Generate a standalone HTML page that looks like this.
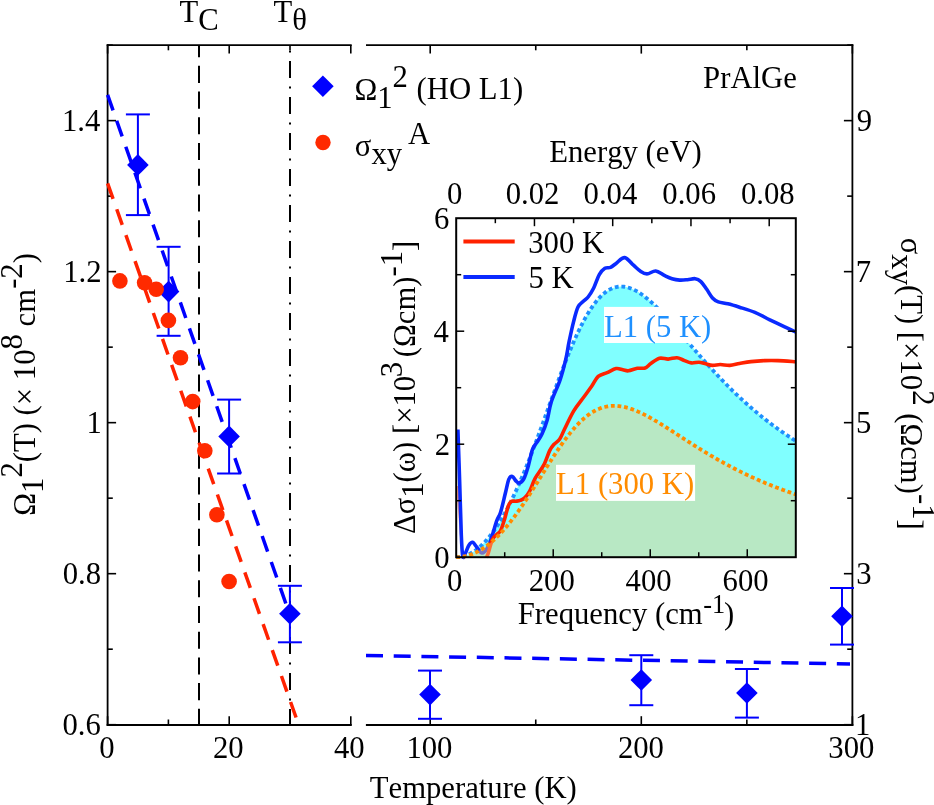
<!DOCTYPE html>
<html><head><meta charset="utf-8"><style>
html,body{margin:0;padding:0;background:#fff;width:934px;height:805px;overflow:hidden}
svg{display:block;will-change:transform}
</style></head><body>
<svg width="934" height="805" viewBox="0 0 934 805" font-family="Liberation Serif, serif" style="font-kerning:none;white-space:pre">
<rect width="934" height="805" fill="#fff"/>
<polygon points="456.20,557.2 456.20,557.20 457.17,557.18 458.14,557.13 459.11,557.04 460.08,556.92 461.05,556.76 462.02,556.57 462.99,556.35 463.96,556.08 464.93,555.79 465.90,555.46 466.87,555.09 467.84,554.69 468.81,554.25 469.78,553.78 470.75,553.27 471.72,552.73 472.69,552.15 473.66,551.54 474.63,550.89 475.60,550.21 476.57,549.49 477.54,548.74 478.51,547.95 479.48,547.13 480.45,546.27 481.43,545.38 482.40,544.45 483.37,543.49 484.34,542.49 485.31,541.45 486.28,540.38 487.25,539.28 488.22,538.14 489.19,536.96 490.16,535.75 491.13,534.50 492.10,533.22 493.07,531.90 494.04,530.55 495.01,529.17 495.98,527.75 496.95,526.29 497.92,524.80 498.89,523.27 499.86,521.71 500.83,520.12 501.80,518.49 502.77,516.83 503.74,515.13 504.71,513.40 505.68,511.64 506.65,509.85 507.62,508.02 508.59,506.15 509.56,504.26 510.53,502.33 511.50,500.37 512.47,498.38 513.44,496.36 514.41,494.31 515.38,492.23 516.35,490.12 517.32,487.98 518.29,485.80 519.26,483.61 520.23,481.38 521.20,479.12 522.17,476.84 523.14,474.53 524.11,472.20 525.08,469.84 526.05,467.46 527.02,465.05 527.99,462.62 528.97,460.17 529.94,457.70 530.91,455.21 531.88,452.70 532.85,450.16 533.82,447.61 534.79,445.05 535.76,442.47 536.73,439.87 537.70,437.26 538.67,434.64 539.64,432.00 540.61,429.35 541.58,426.70 542.55,424.03 543.52,421.36 544.49,418.69 545.46,416.00 546.43,413.32 547.40,410.63 548.37,407.94 549.34,405.25 550.31,402.56 551.28,399.88 552.25,397.20 553.22,394.53 554.19,391.86 555.16,389.20 556.13,386.55 557.10,383.91 558.07,381.28 559.04,378.67 560.01,376.08 560.98,373.50 561.95,370.93 562.92,368.39 563.89,365.87 564.86,363.37 565.83,360.89 566.80,358.44 567.77,356.01 568.74,353.61 569.71,351.24 570.68,348.90 571.65,346.59 572.62,344.31 573.59,342.07 574.56,339.86 575.53,337.69 576.50,335.55 577.48,333.45 578.45,331.39 579.42,329.37 580.39,327.39 581.36,325.45 582.33,323.55 583.30,321.70 584.27,319.89 585.24,318.13 586.21,316.41 587.18,314.73 588.15,313.11 589.12,311.53 590.09,309.99 591.06,308.51 592.03,307.07 593.00,305.68 593.97,304.35 594.94,303.06 595.91,301.82 596.88,300.63 597.85,299.48 598.82,298.39 599.79,297.35 600.76,296.36 601.73,295.42 602.70,294.53 603.67,293.68 604.64,292.89 605.61,292.15 606.58,291.45 607.55,290.80 608.52,290.20 609.49,289.65 610.46,289.15 611.43,288.69 612.40,288.28 613.37,287.91 614.34,287.59 615.31,287.31 616.28,287.08 617.25,286.89 618.22,286.75 619.19,286.65 620.16,286.59 621.13,286.57 622.10,286.58 623.07,286.64 624.04,286.74 625.01,286.88 625.99,287.05 626.96,287.26 627.93,287.51 628.90,287.79 629.87,288.10 630.84,288.45 631.81,288.83 632.78,289.25 633.75,289.69 634.72,290.16 635.69,290.67 636.66,291.20 637.63,291.76 638.60,292.35 639.57,292.96 640.54,293.60 641.51,294.26 642.48,294.95 643.45,295.66 644.42,296.39 645.39,297.15 646.36,297.92 647.33,298.72 648.30,299.53 649.27,300.36 650.24,301.21 651.21,302.08 652.18,302.97 653.15,303.87 654.12,304.79 655.09,305.72 656.06,306.66 657.03,307.62 658.00,308.59 658.97,309.58 659.94,310.57 660.91,311.58 661.88,312.59 662.85,313.62 663.82,314.66 664.79,315.70 665.76,316.75 666.73,317.81 667.70,318.88 668.67,319.96 669.64,321.04 670.61,322.12 671.58,323.22 672.55,324.31 673.52,325.42 674.50,326.52 675.47,327.63 676.44,328.74 677.41,329.86 678.38,330.98 679.35,332.10 680.32,333.23 681.29,334.35 682.26,335.48 683.23,336.60 684.20,337.73 685.17,338.86 686.14,339.99 687.11,341.12 688.08,342.25 689.05,343.37 690.02,344.50 690.99,345.63 691.96,346.75 692.93,347.87 693.90,349.00 694.87,350.12 695.84,351.23 696.81,352.35 697.78,353.46 698.75,354.57 699.72,355.67 700.69,356.78 701.66,357.88 702.63,358.98 703.60,360.07 704.57,361.16 705.54,362.25 706.51,363.33 707.48,364.41 708.45,365.48 709.42,366.55 710.39,367.62 711.36,368.68 712.33,369.74 713.30,370.79 714.27,371.84 715.24,372.88 716.21,373.92 717.18,374.95 718.15,375.98 719.12,377.00 720.09,378.02 721.06,379.04 722.03,380.04 723.00,381.05 723.98,382.04 724.95,383.04 725.92,384.02 726.89,385.01 727.86,385.98 728.83,386.95 729.80,387.92 730.77,388.88 731.74,389.83 732.71,390.78 733.68,391.73 734.65,392.67 735.62,393.60 736.59,394.53 737.56,395.45 738.53,396.36 739.50,397.27 740.47,398.18 741.44,399.08 742.41,399.97 743.38,400.86 744.35,401.74 745.32,402.62 746.29,403.49 747.26,404.36 748.23,405.22 749.20,406.07 750.17,406.92 751.14,407.76 752.11,408.60 753.08,409.43 754.05,410.26 755.02,411.08 755.99,411.90 756.96,412.71 757.93,413.52 758.90,414.32 759.87,415.11 760.84,415.90 761.81,416.69 762.78,417.46 763.75,418.24 764.72,419.01 765.69,419.77 766.66,420.53 767.63,421.28 768.60,422.03 769.57,422.77 770.54,423.51 771.51,424.24 772.49,424.97 773.46,425.69 774.43,426.41 775.40,427.12 776.37,427.83 777.34,428.53 778.31,429.23 779.28,429.92 780.25,430.61 781.22,431.29 782.19,431.97 783.16,432.64 784.13,433.31 785.10,433.98 786.07,434.64 787.04,435.29 788.01,435.94 788.98,436.59 789.95,437.23 790.92,437.87 791.89,438.50 792.86,439.13 793.83,439.75 794.80,440.37 795.77,440.98 795.8,557.2" fill="#80ffff"/>
<polyline points="456.20,557.20 457.17,557.18 458.14,557.13 459.11,557.04 460.08,556.92 461.05,556.76 462.02,556.57 462.99,556.35 463.96,556.08 464.93,555.79 465.90,555.46 466.87,555.09 467.84,554.69 468.81,554.25 469.78,553.78 470.75,553.27 471.72,552.73 472.69,552.15 473.66,551.54 474.63,550.89 475.60,550.21 476.57,549.49 477.54,548.74 478.51,547.95 479.48,547.13 480.45,546.27 481.43,545.38 482.40,544.45 483.37,543.49 484.34,542.49 485.31,541.45 486.28,540.38 487.25,539.28 488.22,538.14 489.19,536.96 490.16,535.75 491.13,534.50 492.10,533.22 493.07,531.90 494.04,530.55 495.01,529.17 495.98,527.75 496.95,526.29 497.92,524.80 498.89,523.27 499.86,521.71 500.83,520.12 501.80,518.49 502.77,516.83 503.74,515.13 504.71,513.40 505.68,511.64 506.65,509.85 507.62,508.02 508.59,506.15 509.56,504.26 510.53,502.33 511.50,500.37 512.47,498.38 513.44,496.36 514.41,494.31 515.38,492.23 516.35,490.12 517.32,487.98 518.29,485.80 519.26,483.61 520.23,481.38 521.20,479.12 522.17,476.84 523.14,474.53 524.11,472.20 525.08,469.84 526.05,467.46 527.02,465.05 527.99,462.62 528.97,460.17 529.94,457.70 530.91,455.21 531.88,452.70 532.85,450.16 533.82,447.61 534.79,445.05 535.76,442.47 536.73,439.87 537.70,437.26 538.67,434.64 539.64,432.00 540.61,429.35 541.58,426.70 542.55,424.03 543.52,421.36 544.49,418.69 545.46,416.00 546.43,413.32 547.40,410.63 548.37,407.94 549.34,405.25 550.31,402.56 551.28,399.88 552.25,397.20 553.22,394.53 554.19,391.86 555.16,389.20 556.13,386.55 557.10,383.91 558.07,381.28 559.04,378.67 560.01,376.08 560.98,373.50 561.95,370.93 562.92,368.39 563.89,365.87 564.86,363.37 565.83,360.89 566.80,358.44 567.77,356.01 568.74,353.61 569.71,351.24 570.68,348.90 571.65,346.59 572.62,344.31 573.59,342.07 574.56,339.86 575.53,337.69 576.50,335.55 577.48,333.45 578.45,331.39 579.42,329.37 580.39,327.39 581.36,325.45 582.33,323.55 583.30,321.70 584.27,319.89 585.24,318.13 586.21,316.41 587.18,314.73 588.15,313.11 589.12,311.53 590.09,309.99 591.06,308.51 592.03,307.07 593.00,305.68 593.97,304.35 594.94,303.06 595.91,301.82 596.88,300.63 597.85,299.48 598.82,298.39 599.79,297.35 600.76,296.36 601.73,295.42 602.70,294.53 603.67,293.68 604.64,292.89 605.61,292.15 606.58,291.45 607.55,290.80 608.52,290.20 609.49,289.65 610.46,289.15 611.43,288.69 612.40,288.28 613.37,287.91 614.34,287.59 615.31,287.31 616.28,287.08 617.25,286.89 618.22,286.75 619.19,286.65 620.16,286.59 621.13,286.57 622.10,286.58 623.07,286.64 624.04,286.74 625.01,286.88 625.99,287.05 626.96,287.26 627.93,287.51 628.90,287.79 629.87,288.10 630.84,288.45 631.81,288.83 632.78,289.25 633.75,289.69 634.72,290.16 635.69,290.67 636.66,291.20 637.63,291.76 638.60,292.35 639.57,292.96 640.54,293.60 641.51,294.26 642.48,294.95 643.45,295.66 644.42,296.39 645.39,297.15 646.36,297.92 647.33,298.72 648.30,299.53 649.27,300.36 650.24,301.21 651.21,302.08 652.18,302.97 653.15,303.87 654.12,304.79 655.09,305.72 656.06,306.66 657.03,307.62 658.00,308.59 658.97,309.58 659.94,310.57 660.91,311.58 661.88,312.59 662.85,313.62 663.82,314.66 664.79,315.70 665.76,316.75 666.73,317.81 667.70,318.88 668.67,319.96 669.64,321.04 670.61,322.12 671.58,323.22 672.55,324.31 673.52,325.42 674.50,326.52 675.47,327.63 676.44,328.74 677.41,329.86 678.38,330.98 679.35,332.10 680.32,333.23 681.29,334.35 682.26,335.48 683.23,336.60 684.20,337.73 685.17,338.86 686.14,339.99 687.11,341.12 688.08,342.25 689.05,343.37 690.02,344.50 690.99,345.63 691.96,346.75 692.93,347.87 693.90,349.00 694.87,350.12 695.84,351.23 696.81,352.35 697.78,353.46 698.75,354.57 699.72,355.67 700.69,356.78 701.66,357.88 702.63,358.98 703.60,360.07 704.57,361.16 705.54,362.25 706.51,363.33 707.48,364.41 708.45,365.48 709.42,366.55 710.39,367.62 711.36,368.68 712.33,369.74 713.30,370.79 714.27,371.84 715.24,372.88 716.21,373.92 717.18,374.95 718.15,375.98 719.12,377.00 720.09,378.02 721.06,379.04 722.03,380.04 723.00,381.05 723.98,382.04 724.95,383.04 725.92,384.02 726.89,385.01 727.86,385.98 728.83,386.95 729.80,387.92 730.77,388.88 731.74,389.83 732.71,390.78 733.68,391.73 734.65,392.67 735.62,393.60 736.59,394.53 737.56,395.45 738.53,396.36 739.50,397.27 740.47,398.18 741.44,399.08 742.41,399.97 743.38,400.86 744.35,401.74 745.32,402.62 746.29,403.49 747.26,404.36 748.23,405.22 749.20,406.07 750.17,406.92 751.14,407.76 752.11,408.60 753.08,409.43 754.05,410.26 755.02,411.08 755.99,411.90 756.96,412.71 757.93,413.52 758.90,414.32 759.87,415.11 760.84,415.90 761.81,416.69 762.78,417.46 763.75,418.24 764.72,419.01 765.69,419.77 766.66,420.53 767.63,421.28 768.60,422.03 769.57,422.77 770.54,423.51 771.51,424.24 772.49,424.97 773.46,425.69 774.43,426.41 775.40,427.12 776.37,427.83 777.34,428.53 778.31,429.23 779.28,429.92 780.25,430.61 781.22,431.29 782.19,431.97 783.16,432.64 784.13,433.31 785.10,433.98 786.07,434.64 787.04,435.29 788.01,435.94 788.98,436.59 789.95,437.23 790.92,437.87 791.89,438.50 792.86,439.13 793.83,439.75 794.80,440.37 795.77,440.98" fill="none" stroke="#1e90ff" stroke-width="3.8" stroke-dasharray="3.8 2.8"/>
<line x1="457.2" y1="486" x2="462.5" y2="557" stroke="#ff6040" stroke-width="2" opacity="0.6"/>
<path d="M457.90,429.50 C458.18,437.92 459.03,462.42 459.60,480.00 C460.17,497.58 460.77,522.25 461.30,535.00 C461.83,547.75 462.10,553.50 462.80,556.50 C463.50,559.50 464.48,554.88 465.50,553.00 C466.52,551.12 467.70,546.98 468.90,545.20 C470.10,543.42 471.40,542.00 472.70,542.30 C474.00,542.60 475.15,545.22 476.70,547.00 C478.25,548.78 480.12,553.00 482.00,553.00 C483.88,553.00 486.27,550.03 488.00,547.00 C489.73,543.97 490.95,539.15 492.40,534.80 C493.85,530.45 495.33,524.67 496.70,520.90 C498.07,517.13 499.15,516.85 500.60,512.20 C502.05,507.55 504.02,498.52 505.40,493.00 C506.78,487.48 507.73,481.85 508.90,479.10 C510.07,476.35 511.23,476.20 512.40,476.50 C513.57,476.80 514.80,479.82 515.90,480.90 C517.00,481.98 517.70,483.30 519.00,483.00 C520.30,482.70 522.20,481.77 523.70,479.10 C525.20,476.43 526.55,471.92 528.00,467.00 C529.45,462.08 530.95,453.67 532.40,449.60 C533.85,445.53 535.10,445.22 536.70,442.60 C538.30,439.98 540.25,437.67 542.00,433.90 C543.75,430.13 545.67,425.30 547.20,420.00 C548.73,414.70 549.05,408.80 551.20,402.10 C553.35,395.40 557.68,386.88 560.10,379.80 C562.52,372.72 564.20,365.95 565.70,359.60 C567.20,353.25 567.78,348.03 569.10,341.70 C570.42,335.37 572.12,327.38 573.60,321.60 C575.08,315.82 576.33,310.43 578.00,307.00 C579.67,303.57 581.92,302.67 583.60,301.00 C585.28,299.33 586.42,299.17 588.10,297.00 C589.78,294.83 591.83,291.73 593.70,288.00 C595.57,284.27 597.43,277.88 599.30,274.60 C601.17,271.32 603.03,269.50 604.90,268.30 C606.77,267.10 608.63,268.22 610.50,267.40 C612.37,266.58 613.73,265.03 616.10,263.40 C618.47,261.77 621.80,257.30 624.70,257.60 C627.60,257.90 630.92,262.97 633.50,265.20 C636.08,267.43 637.95,269.55 640.20,271.00 C642.45,272.45 644.42,273.90 647.00,273.90 C649.58,273.90 652.82,270.75 655.70,271.00 C658.58,271.25 661.58,274.12 664.30,275.40 C667.02,276.68 669.43,277.92 672.00,278.70 C674.57,279.48 677.12,279.93 679.70,280.10 C682.28,280.27 684.92,279.93 687.50,279.70 C690.08,279.47 692.97,278.38 695.20,278.70 C697.43,279.02 698.98,279.83 700.90,281.60 C702.82,283.37 704.77,286.57 706.70,289.30 C708.63,292.03 710.57,295.90 712.50,298.00 C714.43,300.10 715.73,300.93 718.30,301.90 C720.87,302.87 724.37,302.92 727.90,303.80 C731.43,304.68 735.00,305.77 739.50,307.20 C744.00,308.63 749.85,310.30 754.90,312.40 C759.95,314.50 764.83,317.38 769.80,319.80 C774.77,322.22 780.37,324.87 784.70,326.90 C789.03,328.93 793.95,331.15 795.80,332.00" fill="none" stroke="#0a2aff" stroke-width="3.6" stroke-linejoin="round"/>
<path d="M486.30,557.40 C486.58,556.82 486.98,556.88 488.00,553.90 C489.02,550.92 490.95,542.73 492.40,539.50 C493.85,536.27 495.35,535.95 496.70,534.50 C498.05,533.05 499.15,533.48 500.50,530.80 C501.85,528.12 503.57,522.33 504.80,518.40 C506.03,514.47 506.87,510.00 507.90,507.20 C508.93,504.40 509.65,502.60 511.00,501.60 C512.35,500.60 514.45,501.40 516.00,501.20 C517.55,501.00 518.85,500.95 520.30,500.40 C521.75,499.85 523.13,499.45 524.70,497.90 C526.27,496.35 527.98,494.32 529.70,491.10 C531.42,487.88 532.67,482.92 535.00,478.60 C537.33,474.28 541.23,469.90 543.70,465.20 C546.17,460.50 548.07,453.88 549.80,450.40 C551.53,446.92 552.47,446.15 554.10,444.30 C555.73,442.45 557.85,441.85 559.60,439.30 C561.35,436.75 562.27,433.70 564.60,429.00 C566.93,424.30 570.62,416.13 573.60,411.10 C576.58,406.07 579.52,402.90 582.50,398.80 C585.48,394.70 588.88,390.23 591.50,386.50 C594.12,382.77 595.60,378.72 598.20,376.40 C600.80,374.08 604.12,373.90 607.10,372.60 C610.08,371.30 613.48,369.08 616.10,368.60 C618.72,368.12 620.75,369.33 622.80,369.70 C624.85,370.07 625.98,371.03 628.40,370.80 C630.82,370.57 634.52,368.77 637.30,368.30 C640.08,367.83 642.85,368.80 645.10,368.00 C647.35,367.20 648.40,365.12 650.80,363.50 C653.20,361.88 656.60,359.03 659.50,358.30 C662.40,357.57 665.30,359.20 668.20,359.10 C671.10,359.00 674.33,357.52 676.90,357.70 C679.47,357.88 681.20,359.33 683.60,360.20 C686.00,361.07 688.73,362.57 691.30,362.90 C693.87,363.23 696.75,362.10 699.00,362.20 C701.25,362.30 702.55,362.97 704.80,363.50 C707.05,364.03 709.93,365.23 712.50,365.40 C715.07,365.57 717.32,364.50 720.20,364.50 C723.08,364.50 726.58,365.57 729.80,365.40 C733.02,365.23 735.97,364.13 739.50,363.50 C743.03,362.87 746.83,362.08 751.00,361.60 C755.17,361.12 760.00,360.77 764.50,360.60 C769.00,360.43 772.78,360.40 778.00,360.60 C783.22,360.80 792.83,361.60 795.80,361.80" fill="none" stroke="#ff2200" stroke-width="3.6" stroke-linejoin="round"/>
<polygon points="456.20,557.2 456.20,557.20 457.17,557.19 458.14,557.15 459.11,557.10 460.08,557.02 461.05,556.91 462.02,556.79 462.99,556.64 463.96,556.46 464.93,556.27 465.90,556.05 466.87,555.81 467.84,555.54 468.81,555.25 469.78,554.94 470.75,554.61 471.72,554.25 472.69,553.87 473.66,553.47 474.63,553.05 475.60,552.60 476.57,552.13 477.54,551.63 478.51,551.11 479.48,550.57 480.45,550.01 481.43,549.43 482.40,548.82 483.37,548.19 484.34,547.53 485.31,546.86 486.28,546.16 487.25,545.44 488.22,544.69 489.19,543.93 490.16,543.14 491.13,542.33 492.10,541.49 493.07,540.64 494.04,539.76 495.01,538.86 495.98,537.94 496.95,537.00 497.92,536.04 498.89,535.05 499.86,534.05 500.83,533.02 501.80,531.98 502.77,530.91 503.74,529.82 504.71,528.71 505.68,527.58 506.65,526.44 507.62,525.27 508.59,524.08 509.56,522.88 510.53,521.66 511.50,520.42 512.47,519.16 513.44,517.88 514.41,516.59 515.38,515.28 516.35,513.95 517.32,512.61 518.29,511.25 519.26,509.87 520.23,508.49 521.20,507.08 522.17,505.67 523.14,504.24 524.11,502.80 525.08,501.34 526.05,499.88 527.02,498.40 527.99,496.92 528.97,495.42 529.94,493.92 530.91,492.40 531.88,490.88 532.85,489.35 533.82,487.82 534.79,486.28 535.76,484.73 536.73,483.18 537.70,481.63 538.67,480.07 539.64,478.51 540.61,476.95 541.58,475.39 542.55,473.83 543.52,472.27 544.49,470.71 545.46,469.16 546.43,467.61 547.40,466.06 548.37,464.52 549.34,462.99 550.31,461.46 551.28,459.94 552.25,458.42 553.22,456.92 554.19,455.43 555.16,453.95 556.13,452.48 557.10,451.02 558.07,449.58 559.04,448.15 560.01,446.73 560.98,445.33 561.95,443.95 562.92,442.58 563.89,441.24 564.86,439.91 565.83,438.60 566.80,437.31 567.77,436.04 568.74,434.79 569.71,433.56 570.68,432.36 571.65,431.18 572.62,430.02 573.59,428.89 574.56,427.78 575.53,426.69 576.50,425.63 577.48,424.60 578.45,423.60 579.42,422.62 580.39,421.66 581.36,420.74 582.33,419.84 583.30,418.97 584.27,418.12 585.24,417.31 586.21,416.52 587.18,415.77 588.15,415.04 589.12,414.33 590.09,413.66 591.06,413.02 592.03,412.40 593.00,411.82 593.97,411.26 594.94,410.73 595.91,410.23 596.88,409.76 597.85,409.31 598.82,408.90 599.79,408.51 600.76,408.15 601.73,407.81 602.70,407.51 603.67,407.23 604.64,406.98 605.61,406.75 606.58,406.55 607.55,406.37 608.52,406.22 609.49,406.10 610.46,406.00 611.43,405.92 612.40,405.87 613.37,405.84 614.34,405.84 615.31,405.85 616.28,405.89 617.25,405.95 618.22,406.04 619.19,406.14 620.16,406.26 621.13,406.41 622.10,406.57 623.07,406.75 624.04,406.95 625.01,407.17 625.99,407.41 626.96,407.66 627.93,407.93 628.90,408.22 629.87,408.52 630.84,408.84 631.81,409.17 632.78,409.52 633.75,409.88 634.72,410.25 635.69,410.64 636.66,411.04 637.63,411.46 638.60,411.88 639.57,412.32 640.54,412.76 641.51,413.22 642.48,413.69 643.45,414.17 644.42,414.66 645.39,415.16 646.36,415.66 647.33,416.18 648.30,416.70 649.27,417.23 650.24,417.76 651.21,418.31 652.18,418.86 653.15,419.42 654.12,419.98 655.09,420.55 656.06,421.12 657.03,421.70 658.00,422.28 658.97,422.87 659.94,423.47 660.91,424.06 661.88,424.66 662.85,425.27 663.82,425.87 664.79,426.48 665.76,427.09 666.73,427.71 667.70,428.33 668.67,428.94 669.64,429.57 670.61,430.19 671.58,430.81 672.55,431.44 673.52,432.06 674.50,432.69 675.47,433.32 676.44,433.95 677.41,434.57 678.38,435.20 679.35,435.83 680.32,436.46 681.29,437.09 682.26,437.72 683.23,438.34 684.20,438.97 685.17,439.60 686.14,440.22 687.11,440.84 688.08,441.47 689.05,442.09 690.02,442.71 690.99,443.33 691.96,443.95 692.93,444.56 693.90,445.18 694.87,445.79 695.84,446.40 696.81,447.01 697.78,447.61 698.75,448.22 699.72,448.82 700.69,449.42 701.66,450.02 702.63,450.61 703.60,451.20 704.57,451.79 705.54,452.38 706.51,452.97 707.48,453.55 708.45,454.13 709.42,454.71 710.39,455.28 711.36,455.86 712.33,456.43 713.30,456.99 714.27,457.56 715.24,458.12 716.21,458.67 717.18,459.23 718.15,459.78 719.12,460.33 720.09,460.88 721.06,461.42 722.03,461.96 723.00,462.50 723.98,463.03 724.95,463.56 725.92,464.09 726.89,464.62 727.86,465.14 728.83,465.66 729.80,466.17 730.77,466.69 731.74,467.20 732.71,467.70 733.68,468.21 734.65,468.71 735.62,469.21 736.59,469.70 737.56,470.19 738.53,470.68 739.50,471.16 740.47,471.65 741.44,472.13 742.41,472.60 743.38,473.07 744.35,473.54 745.32,474.01 746.29,474.47 747.26,474.93 748.23,475.39 749.20,475.85 750.17,476.30 751.14,476.75 752.11,477.19 753.08,477.64 754.05,478.08 755.02,478.51 755.99,478.95 756.96,479.38 757.93,479.81 758.90,480.23 759.87,480.65 760.84,481.07 761.81,481.49 762.78,481.90 763.75,482.31 764.72,482.72 765.69,483.13 766.66,483.53 767.63,483.93 768.60,484.33 769.57,484.72 770.54,485.11 771.51,485.50 772.49,485.89 773.46,486.27 774.43,486.65 775.40,487.03 776.37,487.41 777.34,487.78 778.31,488.15 779.28,488.52 780.25,488.89 781.22,489.25 782.19,489.61 783.16,489.97 784.13,490.32 785.10,490.68 786.07,491.03 787.04,491.37 788.01,491.72 788.98,492.06 789.95,492.40 790.92,492.74 791.89,493.08 792.86,493.41 793.83,493.74 794.80,494.07 795.77,494.40 795.8,557.2" fill="rgb(252,204,124)" fill-opacity="0.45"/>
<polyline points="456.20,557.20 457.17,557.19 458.14,557.15 459.11,557.10 460.08,557.02 461.05,556.91 462.02,556.79 462.99,556.64 463.96,556.46 464.93,556.27 465.90,556.05 466.87,555.81 467.84,555.54 468.81,555.25 469.78,554.94 470.75,554.61 471.72,554.25 472.69,553.87 473.66,553.47 474.63,553.05 475.60,552.60 476.57,552.13 477.54,551.63 478.51,551.11 479.48,550.57 480.45,550.01 481.43,549.43 482.40,548.82 483.37,548.19 484.34,547.53 485.31,546.86 486.28,546.16 487.25,545.44 488.22,544.69 489.19,543.93 490.16,543.14 491.13,542.33 492.10,541.49 493.07,540.64 494.04,539.76 495.01,538.86 495.98,537.94 496.95,537.00 497.92,536.04 498.89,535.05 499.86,534.05 500.83,533.02 501.80,531.98 502.77,530.91 503.74,529.82 504.71,528.71 505.68,527.58 506.65,526.44 507.62,525.27 508.59,524.08 509.56,522.88 510.53,521.66 511.50,520.42 512.47,519.16 513.44,517.88 514.41,516.59 515.38,515.28 516.35,513.95 517.32,512.61 518.29,511.25 519.26,509.87 520.23,508.49 521.20,507.08 522.17,505.67 523.14,504.24 524.11,502.80 525.08,501.34 526.05,499.88 527.02,498.40 527.99,496.92 528.97,495.42 529.94,493.92 530.91,492.40 531.88,490.88 532.85,489.35 533.82,487.82 534.79,486.28 535.76,484.73 536.73,483.18 537.70,481.63 538.67,480.07 539.64,478.51 540.61,476.95 541.58,475.39 542.55,473.83 543.52,472.27 544.49,470.71 545.46,469.16 546.43,467.61 547.40,466.06 548.37,464.52 549.34,462.99 550.31,461.46 551.28,459.94 552.25,458.42 553.22,456.92 554.19,455.43 555.16,453.95 556.13,452.48 557.10,451.02 558.07,449.58 559.04,448.15 560.01,446.73 560.98,445.33 561.95,443.95 562.92,442.58 563.89,441.24 564.86,439.91 565.83,438.60 566.80,437.31 567.77,436.04 568.74,434.79 569.71,433.56 570.68,432.36 571.65,431.18 572.62,430.02 573.59,428.89 574.56,427.78 575.53,426.69 576.50,425.63 577.48,424.60 578.45,423.60 579.42,422.62 580.39,421.66 581.36,420.74 582.33,419.84 583.30,418.97 584.27,418.12 585.24,417.31 586.21,416.52 587.18,415.77 588.15,415.04 589.12,414.33 590.09,413.66 591.06,413.02 592.03,412.40 593.00,411.82 593.97,411.26 594.94,410.73 595.91,410.23 596.88,409.76 597.85,409.31 598.82,408.90 599.79,408.51 600.76,408.15 601.73,407.81 602.70,407.51 603.67,407.23 604.64,406.98 605.61,406.75 606.58,406.55 607.55,406.37 608.52,406.22 609.49,406.10 610.46,406.00 611.43,405.92 612.40,405.87 613.37,405.84 614.34,405.84 615.31,405.85 616.28,405.89 617.25,405.95 618.22,406.04 619.19,406.14 620.16,406.26 621.13,406.41 622.10,406.57 623.07,406.75 624.04,406.95 625.01,407.17 625.99,407.41 626.96,407.66 627.93,407.93 628.90,408.22 629.87,408.52 630.84,408.84 631.81,409.17 632.78,409.52 633.75,409.88 634.72,410.25 635.69,410.64 636.66,411.04 637.63,411.46 638.60,411.88 639.57,412.32 640.54,412.76 641.51,413.22 642.48,413.69 643.45,414.17 644.42,414.66 645.39,415.16 646.36,415.66 647.33,416.18 648.30,416.70 649.27,417.23 650.24,417.76 651.21,418.31 652.18,418.86 653.15,419.42 654.12,419.98 655.09,420.55 656.06,421.12 657.03,421.70 658.00,422.28 658.97,422.87 659.94,423.47 660.91,424.06 661.88,424.66 662.85,425.27 663.82,425.87 664.79,426.48 665.76,427.09 666.73,427.71 667.70,428.33 668.67,428.94 669.64,429.57 670.61,430.19 671.58,430.81 672.55,431.44 673.52,432.06 674.50,432.69 675.47,433.32 676.44,433.95 677.41,434.57 678.38,435.20 679.35,435.83 680.32,436.46 681.29,437.09 682.26,437.72 683.23,438.34 684.20,438.97 685.17,439.60 686.14,440.22 687.11,440.84 688.08,441.47 689.05,442.09 690.02,442.71 690.99,443.33 691.96,443.95 692.93,444.56 693.90,445.18 694.87,445.79 695.84,446.40 696.81,447.01 697.78,447.61 698.75,448.22 699.72,448.82 700.69,449.42 701.66,450.02 702.63,450.61 703.60,451.20 704.57,451.79 705.54,452.38 706.51,452.97 707.48,453.55 708.45,454.13 709.42,454.71 710.39,455.28 711.36,455.86 712.33,456.43 713.30,456.99 714.27,457.56 715.24,458.12 716.21,458.67 717.18,459.23 718.15,459.78 719.12,460.33 720.09,460.88 721.06,461.42 722.03,461.96 723.00,462.50 723.98,463.03 724.95,463.56 725.92,464.09 726.89,464.62 727.86,465.14 728.83,465.66 729.80,466.17 730.77,466.69 731.74,467.20 732.71,467.70 733.68,468.21 734.65,468.71 735.62,469.21 736.59,469.70 737.56,470.19 738.53,470.68 739.50,471.16 740.47,471.65 741.44,472.13 742.41,472.60 743.38,473.07 744.35,473.54 745.32,474.01 746.29,474.47 747.26,474.93 748.23,475.39 749.20,475.85 750.17,476.30 751.14,476.75 752.11,477.19 753.08,477.64 754.05,478.08 755.02,478.51 755.99,478.95 756.96,479.38 757.93,479.81 758.90,480.23 759.87,480.65 760.84,481.07 761.81,481.49 762.78,481.90 763.75,482.31 764.72,482.72 765.69,483.13 766.66,483.53 767.63,483.93 768.60,484.33 769.57,484.72 770.54,485.11 771.51,485.50 772.49,485.89 773.46,486.27 774.43,486.65 775.40,487.03 776.37,487.41 777.34,487.78 778.31,488.15 779.28,488.52 780.25,488.89 781.22,489.25 782.19,489.61 783.16,489.97 784.13,490.32 785.10,490.68 786.07,491.03 787.04,491.37 788.01,491.72 788.98,492.06 789.95,492.40 790.92,492.74 791.89,493.08 792.86,493.41 793.83,493.74 794.80,494.07 795.77,494.40" fill="none" stroke="#ff8c00" stroke-width="3.8" stroke-dasharray="3.8 2.8"/>
<rect x="604" y="306.9" width="109" height="36.1" fill="#fff"/>
<rect x="556" y="464.8" width="139.1" height="36.1" fill="#fff"/>
<g transform="translate(603.92,336.60)" fill="#1e90ff">
<text transform="translate(0.00,0.00) scale(0.975,1)" font-size="31.5">L1 (5 K)</text>
</g>
<g transform="translate(556.12,493.70)" fill="#ff8c00">
<text transform="translate(0.00,0.00) scale(0.975,1)" font-size="31.5">L1 (300 K)</text>
</g>
<rect x="456.2" y="218.2" width="339.60" height="339.00" fill="none" stroke="#000" stroke-width="2"/>
<line x1="456.20" y1="500.70" x2="461.20" y2="500.70" stroke="#000" stroke-width="1.5" />
<line x1="795.80" y1="500.70" x2="790.80" y2="500.70" stroke="#000" stroke-width="1.5" />
<line x1="456.20" y1="444.20" x2="464.20" y2="444.20" stroke="#000" stroke-width="1.5" />
<line x1="795.80" y1="444.20" x2="787.80" y2="444.20" stroke="#000" stroke-width="1.5" />
<line x1="456.20" y1="387.70" x2="461.20" y2="387.70" stroke="#000" stroke-width="1.5" />
<line x1="795.80" y1="387.70" x2="790.80" y2="387.70" stroke="#000" stroke-width="1.5" />
<line x1="456.20" y1="331.20" x2="464.20" y2="331.20" stroke="#000" stroke-width="1.5" />
<line x1="795.80" y1="331.20" x2="787.80" y2="331.20" stroke="#000" stroke-width="1.5" />
<line x1="456.20" y1="274.70" x2="461.20" y2="274.70" stroke="#000" stroke-width="1.5" />
<line x1="795.80" y1="274.70" x2="790.80" y2="274.70" stroke="#000" stroke-width="1.5" />
<line x1="504.71" y1="557.20" x2="504.71" y2="552.20" stroke="#000" stroke-width="1.5" />
<line x1="553.22" y1="557.20" x2="553.22" y2="549.20" stroke="#000" stroke-width="1.5" />
<line x1="601.73" y1="557.20" x2="601.73" y2="552.20" stroke="#000" stroke-width="1.5" />
<line x1="650.24" y1="557.20" x2="650.24" y2="549.20" stroke="#000" stroke-width="1.5" />
<line x1="698.75" y1="557.20" x2="698.75" y2="552.20" stroke="#000" stroke-width="1.5" />
<line x1="747.26" y1="557.20" x2="747.26" y2="549.20" stroke="#000" stroke-width="1.5" />
<line x1="495.33" y1="218.20" x2="495.33" y2="223.20" stroke="#000" stroke-width="1.5" />
<line x1="534.45" y1="218.20" x2="534.45" y2="226.20" stroke="#000" stroke-width="1.5" />
<line x1="573.58" y1="218.20" x2="573.58" y2="223.20" stroke="#000" stroke-width="1.5" />
<line x1="612.70" y1="218.20" x2="612.70" y2="226.20" stroke="#000" stroke-width="1.5" />
<line x1="651.83" y1="218.20" x2="651.83" y2="223.20" stroke="#000" stroke-width="1.5" />
<line x1="690.96" y1="218.20" x2="690.96" y2="226.20" stroke="#000" stroke-width="1.5" />
<line x1="730.08" y1="218.20" x2="730.08" y2="223.20" stroke="#000" stroke-width="1.5" />
<line x1="769.21" y1="218.20" x2="769.21" y2="226.20" stroke="#000" stroke-width="1.5" />
<line x1="463.40" y1="241.40" x2="514.70" y2="241.40" stroke="#ff2200" stroke-width="4" />
<line x1="463.40" y1="277.00" x2="514.70" y2="277.00" stroke="#0a2aff" stroke-width="4" />
<g transform="translate(528.23,252.60)" fill="#000">
<text transform="translate(0.00,0.00) scale(0.975,1)" font-size="31.5">300 K</text>
</g>
<g transform="translate(528.42,288.40)" fill="#000">
<text transform="translate(0.00,0.00) scale(0.975,1)" font-size="31.5">5 K</text>
</g>
<g transform="translate(434.21,567.60)" fill="#000">
<text transform="translate(0.00,0.00) scale(0.975,1)" font-size="31.5">0</text>
</g>
<g transform="translate(434.74,454.60)" fill="#000">
<text transform="translate(0.00,0.00) scale(0.975,1)" font-size="31.5">2</text>
</g>
<g transform="translate(433.52,341.60)" fill="#000">
<text transform="translate(0.00,0.00) scale(0.975,1)" font-size="31.5">4</text>
</g>
<g transform="translate(433.96,228.60)" fill="#000">
<text transform="translate(0.00,0.00) scale(0.975,1)" font-size="31.5">6</text>
</g>
<g transform="translate(447.12,591.00)" fill="#000">
<text transform="translate(0.00,0.00) scale(0.975,1)" font-size="31.5">0</text>
</g>
<g transform="translate(528.68,591.00)" fill="#000">
<text transform="translate(0.00,0.00) scale(0.975,1)" font-size="31.5">200</text>
</g>
<g transform="translate(625.55,591.00)" fill="#000">
<text transform="translate(0.00,0.00) scale(0.975,1)" font-size="31.5">400</text>
</g>
<g transform="translate(722.59,591.00)" fill="#000">
<text transform="translate(0.00,0.00) scale(0.975,1)" font-size="31.5">600</text>
</g>
<g transform="translate(447.02,204.40)" fill="#000">
<text transform="translate(0.00,0.00) scale(0.975,1)" font-size="31.5">0</text>
</g>
<g transform="translate(505.69,204.40)" fill="#000">
<text transform="translate(0.00,0.00) scale(0.975,1)" font-size="31.5">0.02</text>
</g>
<g transform="translate(583.58,204.40)" fill="#000">
<text transform="translate(0.00,0.00) scale(0.975,1)" font-size="31.5">0.04</text>
</g>
<g transform="translate(662.30,204.40)" fill="#000">
<text transform="translate(0.00,0.00) scale(0.975,1)" font-size="31.5">0.06</text>
</g>
<g transform="translate(740.93,204.40)" fill="#000">
<text transform="translate(0.00,0.00) scale(0.975,1)" font-size="31.5">0.08</text>
</g>
<g transform="translate(549.22,162.40)" fill="#000">
<text transform="translate(0.00,0.00) scale(0.975,1)" font-size="31.5">Energy (eV)</text>
</g>
<g transform="translate(517.72,624.20)" fill="#000">
<text transform="translate(0.00,0.00) scale(0.975,1)" font-size="31.5">Frequency (cm</text>
<text transform="translate(185.55,-11.30) scale(0.975,1)" font-size="27">-1</text>
<text transform="translate(206.28,0.00) scale(0.975,1)" font-size="31.5">)</text>
</g>
<g transform="translate(414.80,534.07) rotate(-90)" fill="#000">
<text transform="translate(0.00,0.00) scale(0.975,1)" font-size="31.5">Δσ</text>
<text transform="translate(36.31,8.40) scale(0.975,1)" font-size="31.5">1</text>
<text transform="translate(51.66,0.00) scale(0.975,1)" font-size="31.5">(ω) [×10</text>
<text transform="translate(156.77,-12.40) scale(0.975,1)" font-size="31.5">3</text>
<text transform="translate(169.13,0.00) scale(0.975,1)" font-size="31.5"> (Ωcm)</text>
<text transform="translate(257.61,-12.40) scale(0.975,1)" font-size="31.5">-1</text>
<text transform="translate(283.19,0.00) scale(0.975,1)" font-size="31.5">]</text>
</g>
<line x1="107.60" y1="45.10" x2="107.60" y2="724.95" stroke="#000" stroke-width="1.8" stroke-linecap="square"/>
<line x1="852.40" y1="45.10" x2="852.40" y2="724.95" stroke="#000" stroke-width="1.8" stroke-linecap="square"/>
<line x1="107.60" y1="45.10" x2="350.80" y2="45.10" stroke="#000" stroke-width="1.8" stroke-linecap="square"/>
<line x1="107.60" y1="724.95" x2="350.80" y2="724.95" stroke="#000" stroke-width="2.0" stroke-linecap="square"/>
<line x1="366.90" y1="45.10" x2="852.40" y2="45.10" stroke="#000" stroke-width="1.8" stroke-linecap="square"/>
<line x1="366.90" y1="724.95" x2="852.40" y2="724.95" stroke="#000" stroke-width="2.0" stroke-linecap="square"/>
<line x1="107.60" y1="724.70" x2="107.60" y2="716.20" stroke="#000" stroke-width="1.6" />
<line x1="107.60" y1="45.10" x2="107.60" y2="53.60" stroke="#000" stroke-width="1.6" />
<line x1="168.40" y1="724.70" x2="168.40" y2="719.50" stroke="#000" stroke-width="1.6" />
<line x1="168.40" y1="45.10" x2="168.40" y2="50.30" stroke="#000" stroke-width="1.6" />
<line x1="229.20" y1="724.70" x2="229.20" y2="716.20" stroke="#000" stroke-width="1.6" />
<line x1="229.20" y1="45.10" x2="229.20" y2="53.60" stroke="#000" stroke-width="1.6" />
<line x1="290.00" y1="724.70" x2="290.00" y2="719.50" stroke="#000" stroke-width="1.6" />
<line x1="290.00" y1="45.10" x2="290.00" y2="50.30" stroke="#000" stroke-width="1.6" />
<line x1="350.80" y1="724.70" x2="350.80" y2="716.20" stroke="#000" stroke-width="1.6" />
<line x1="350.80" y1="45.10" x2="350.80" y2="53.60" stroke="#000" stroke-width="1.6" />
<line x1="430.20" y1="724.70" x2="430.20" y2="716.20" stroke="#000" stroke-width="1.6" />
<line x1="430.20" y1="45.10" x2="430.20" y2="53.60" stroke="#000" stroke-width="1.6" />
<line x1="535.75" y1="724.70" x2="535.75" y2="719.50" stroke="#000" stroke-width="1.6" />
<line x1="535.75" y1="45.10" x2="535.75" y2="50.30" stroke="#000" stroke-width="1.6" />
<line x1="641.30" y1="724.70" x2="641.30" y2="716.20" stroke="#000" stroke-width="1.6" />
<line x1="641.30" y1="45.10" x2="641.30" y2="53.60" stroke="#000" stroke-width="1.6" />
<line x1="746.85" y1="724.70" x2="746.85" y2="719.50" stroke="#000" stroke-width="1.6" />
<line x1="746.85" y1="45.10" x2="746.85" y2="50.30" stroke="#000" stroke-width="1.6" />
<line x1="852.40" y1="724.70" x2="852.40" y2="716.20" stroke="#000" stroke-width="1.6" />
<line x1="852.40" y1="45.10" x2="852.40" y2="53.60" stroke="#000" stroke-width="1.6" />
<line x1="107.60" y1="724.70" x2="116.10" y2="724.70" stroke="#000" stroke-width="1.6" />
<line x1="852.40" y1="724.70" x2="843.90" y2="724.70" stroke="#000" stroke-width="1.6" />
<line x1="107.60" y1="649.19" x2="112.80" y2="649.19" stroke="#000" stroke-width="1.6" />
<line x1="852.40" y1="649.19" x2="847.20" y2="649.19" stroke="#000" stroke-width="1.6" />
<line x1="107.60" y1="573.68" x2="116.10" y2="573.68" stroke="#000" stroke-width="1.6" />
<line x1="852.40" y1="573.68" x2="843.90" y2="573.68" stroke="#000" stroke-width="1.6" />
<line x1="107.60" y1="498.17" x2="112.80" y2="498.17" stroke="#000" stroke-width="1.6" />
<line x1="852.40" y1="498.17" x2="847.20" y2="498.17" stroke="#000" stroke-width="1.6" />
<line x1="107.60" y1="422.66" x2="116.10" y2="422.66" stroke="#000" stroke-width="1.6" />
<line x1="852.40" y1="422.66" x2="843.90" y2="422.66" stroke="#000" stroke-width="1.6" />
<line x1="107.60" y1="347.15" x2="112.80" y2="347.15" stroke="#000" stroke-width="1.6" />
<line x1="852.40" y1="347.15" x2="847.20" y2="347.15" stroke="#000" stroke-width="1.6" />
<line x1="107.60" y1="271.64" x2="116.10" y2="271.64" stroke="#000" stroke-width="1.6" />
<line x1="852.40" y1="271.64" x2="843.90" y2="271.64" stroke="#000" stroke-width="1.6" />
<line x1="107.60" y1="196.13" x2="112.80" y2="196.13" stroke="#000" stroke-width="1.6" />
<line x1="852.40" y1="196.13" x2="847.20" y2="196.13" stroke="#000" stroke-width="1.6" />
<line x1="107.60" y1="120.62" x2="116.10" y2="120.62" stroke="#000" stroke-width="1.6" />
<line x1="852.40" y1="120.62" x2="843.90" y2="120.62" stroke="#000" stroke-width="1.6" />
<line x1="107.60" y1="45.11" x2="112.80" y2="45.11" stroke="#000" stroke-width="1.6" />
<line x1="852.40" y1="45.11" x2="847.20" y2="45.11" stroke="#000" stroke-width="1.6" />
<g transform="translate(62.42,735.10)" fill="#000">
<text transform="translate(0.00,0.00) scale(0.975,1)" font-size="31.5">0.6</text>
</g>
<g transform="translate(62.68,584.08)" fill="#000">
<text transform="translate(0.00,0.00) scale(0.975,1)" font-size="31.5">0.8</text>
</g>
<g transform="translate(86.39,433.06)" fill="#000">
<text transform="translate(0.00,0.00) scale(0.975,1)" font-size="31.5">1</text>
</g>
<g transform="translate(63.20,282.04)" fill="#000">
<text transform="translate(0.00,0.00) scale(0.975,1)" font-size="31.5">1.2</text>
</g>
<g transform="translate(61.99,131.02)" fill="#000">
<text transform="translate(0.00,0.00) scale(0.975,1)" font-size="31.5">1.4</text>
</g>
<g transform="translate(855.10,735.10)" fill="#000">
<text transform="translate(0.00,0.00) scale(0.975,1)" font-size="31.5">1</text>
</g>
<g transform="translate(856.33,584.08)" fill="#000">
<text transform="translate(0.00,0.00) scale(0.975,1)" font-size="31.5">3</text>
</g>
<g transform="translate(856.02,433.06)" fill="#000">
<text transform="translate(0.00,0.00) scale(0.975,1)" font-size="31.5">5</text>
</g>
<g transform="translate(855.78,282.04)" fill="#000">
<text transform="translate(0.00,0.00) scale(0.975,1)" font-size="31.5">7</text>
</g>
<g transform="translate(856.81,131.02)" fill="#000">
<text transform="translate(0.00,0.00) scale(0.975,1)" font-size="31.5">9</text>
</g>
<g transform="translate(99.32,758.20)" fill="#000">
<text transform="translate(0.00,0.00) scale(0.975,1)" font-size="31.5">0</text>
</g>
<g transform="translate(212.95,758.20)" fill="#000">
<text transform="translate(0.00,0.00) scale(0.975,1)" font-size="31.5">20</text>
</g>
<g transform="translate(333.93,758.20)" fill="#000">
<text transform="translate(0.00,0.00) scale(0.975,1)" font-size="31.5">40</text>
</g>
<g transform="translate(406.40,758.20)" fill="#000">
<text transform="translate(0.00,0.00) scale(0.975,1)" font-size="31.5">100</text>
</g>
<g transform="translate(617.88,758.20)" fill="#000">
<text transform="translate(0.00,0.00) scale(0.975,1)" font-size="31.5">200</text>
</g>
<g transform="translate(828.32,758.20)" fill="#000">
<text transform="translate(0.00,0.00) scale(0.975,1)" font-size="31.5">300</text>
</g>
<g transform="translate(369.75,798.00)" fill="#000">
<text transform="translate(0.00,0.00) scale(0.975,1)" font-size="31.5">Temperature (K)</text>
</g>
<line x1="199" y1="45.1" x2="199" y2="724.7" stroke="#000" stroke-width="2" stroke-dasharray="17.1 8.62" stroke-dashoffset="5"/>
<line x1="290" y1="45.1" x2="290" y2="724.7" stroke="#000" stroke-width="2" stroke-dasharray="17 8.5 2 8.5" stroke-dashoffset="20"/>
<g transform="translate(179.45,21.70)" fill="#000">
<text transform="translate(0.00,0.00) scale(0.975,1)" font-size="31.5">T</text>
<text transform="translate(18.76,8.50) scale(0.975,1)" font-size="31.5">C</text>
</g>
<g transform="translate(273.45,21.70)" fill="#000">
<text transform="translate(0.00,0.00) scale(0.975,1)" font-size="31.5">T</text>
<text transform="translate(18.76,8.50) scale(0.975,1)" font-size="31.5">θ</text>
</g>
<line x1="107.6" y1="94.8" x2="290" y2="615.4" stroke="#0000ff" stroke-width="3.5" stroke-dasharray="16.5 11"/>
<line x1="107.6" y1="183.3" x2="298.6" y2="724.7" stroke="#ff2200" stroke-width="3.5" stroke-dasharray="16.5 11"/>
<line x1="366" y1="655.4" x2="850" y2="664" stroke="#0000ff" stroke-width="3.5" stroke-dasharray="17 10.7"/>
<line x1="137.90" y1="114.40" x2="137.90" y2="215.10" stroke="#0000ff" stroke-width="2" />
<line x1="125.90" y1="114.40" x2="149.90" y2="114.40" stroke="#0000ff" stroke-width="2" />
<line x1="125.90" y1="215.10" x2="149.90" y2="215.10" stroke="#0000ff" stroke-width="2" />
<polygon points="137.90,154.10 148.70,164.90 137.90,175.70 127.10,164.90" fill="#0000ff"/>
<line x1="168.60" y1="246.80" x2="168.60" y2="335.80" stroke="#0000ff" stroke-width="2" />
<line x1="156.60" y1="246.80" x2="180.60" y2="246.80" stroke="#0000ff" stroke-width="2" />
<line x1="156.60" y1="335.80" x2="180.60" y2="335.80" stroke="#0000ff" stroke-width="2" />
<polygon points="168.60,280.80 179.40,291.60 168.60,302.40 157.80,291.60" fill="#0000ff"/>
<line x1="229.10" y1="399.60" x2="229.10" y2="473.50" stroke="#0000ff" stroke-width="2" />
<line x1="217.10" y1="399.60" x2="241.10" y2="399.60" stroke="#0000ff" stroke-width="2" />
<line x1="217.10" y1="473.50" x2="241.10" y2="473.50" stroke="#0000ff" stroke-width="2" />
<polygon points="229.10,425.60 239.90,436.40 229.10,447.20 218.30,436.40" fill="#0000ff"/>
<line x1="289.90" y1="585.80" x2="289.90" y2="642.30" stroke="#0000ff" stroke-width="2" />
<line x1="277.90" y1="585.80" x2="301.90" y2="585.80" stroke="#0000ff" stroke-width="2" />
<line x1="277.90" y1="642.30" x2="301.90" y2="642.30" stroke="#0000ff" stroke-width="2" />
<polygon points="289.90,603.00 300.70,613.80 289.90,624.60 279.10,613.80" fill="#0000ff"/>
<line x1="430.00" y1="670.60" x2="430.00" y2="718.80" stroke="#0000ff" stroke-width="2" />
<line x1="418.00" y1="670.60" x2="442.00" y2="670.60" stroke="#0000ff" stroke-width="2" />
<line x1="418.00" y1="718.80" x2="442.00" y2="718.80" stroke="#0000ff" stroke-width="2" />
<polygon points="430.00,683.80 440.80,694.60 430.00,705.40 419.20,694.60" fill="#0000ff"/>
<line x1="641.30" y1="655.20" x2="641.30" y2="705.20" stroke="#0000ff" stroke-width="2" />
<line x1="629.30" y1="655.20" x2="653.30" y2="655.20" stroke="#0000ff" stroke-width="2" />
<line x1="629.30" y1="705.20" x2="653.30" y2="705.20" stroke="#0000ff" stroke-width="2" />
<polygon points="641.30,669.20 652.10,680.00 641.30,690.80 630.50,680.00" fill="#0000ff"/>
<line x1="746.90" y1="669.00" x2="746.90" y2="717.60" stroke="#0000ff" stroke-width="2" />
<line x1="734.90" y1="669.00" x2="758.90" y2="669.00" stroke="#0000ff" stroke-width="2" />
<line x1="734.90" y1="717.60" x2="758.90" y2="717.60" stroke="#0000ff" stroke-width="2" />
<polygon points="746.90,682.20 757.70,693.00 746.90,703.80 736.10,693.00" fill="#0000ff"/>
<line x1="842.00" y1="588.00" x2="842.00" y2="644.60" stroke="#0000ff" stroke-width="2" />
<line x1="830.00" y1="588.00" x2="854.00" y2="588.00" stroke="#0000ff" stroke-width="2" />
<line x1="830.00" y1="644.60" x2="854.00" y2="644.60" stroke="#0000ff" stroke-width="2" />
<polygon points="842.00,605.50 852.80,616.30 842.00,627.10 831.20,616.30" fill="#0000ff"/>
<circle cx="119.9" cy="280.9" r="7.8" fill="#ff2a00"/>
<circle cx="144.6" cy="282.7" r="7.8" fill="#ff2a00"/>
<circle cx="156.2" cy="289.3" r="7.8" fill="#ff2a00"/>
<circle cx="168.4" cy="320.4" r="7.8" fill="#ff2a00"/>
<circle cx="180.5" cy="357.8" r="7.8" fill="#ff2a00"/>
<circle cx="192.7" cy="401.6" r="7.8" fill="#ff2a00"/>
<circle cx="204.8" cy="450.7" r="7.8" fill="#ff2a00"/>
<circle cx="216.9" cy="514.8" r="7.8" fill="#ff2a00"/>
<circle cx="229.1" cy="581.5" r="7.8" fill="#ff2a00"/>
<polygon points="322.9,75.4 333.7,86.2 322.9,97.0 312.1,86.2" fill="#0000ff"/>
<circle cx="323" cy="142.5" r="7.7" fill="#ff2a00"/>
<g transform="translate(354.41,99.60)" fill="#000">
<text transform="translate(0.00,0.00) scale(0.975,1)" font-size="31.5">Ω</text>
<text transform="translate(22.82,8.40) scale(0.975,1)" font-size="31.5">1</text>
<text transform="translate(38.18,-12.60) scale(0.975,1)" font-size="31.5">2</text>
</g>
<g transform="translate(416.55,99.30)" fill="#000">
<text transform="translate(0.00,0.00) scale(0.975,1)" font-size="31.5">(HO L1)</text>
</g>
<g transform="translate(354.83,156.00)" fill="#000">
<text transform="translate(0.00,0.00) scale(0.975,1)" font-size="31.5">σ</text>
<text transform="translate(16.56,8.40) scale(0.975,1)" font-size="31.5">xy</text>
<text transform="translate(53.27,-12.20) scale(0.975,1)" font-size="31.5">A</text>
</g>
<g transform="translate(703.12,87.70)" fill="#000">
<text transform="translate(0.00,0.00) scale(0.975,1)" font-size="31.5">PrAlGe</text>
</g>
<g transform="translate(34.50,515.79) rotate(-90)" fill="#000">
<text transform="translate(0.00,0.00) scale(0.975,1)" font-size="31.5">Ω</text>
<text transform="translate(22.82,8.00) scale(0.975,1)" font-size="31.5">1</text>
<text transform="translate(38.18,-12.10) scale(0.975,1)" font-size="31.5">2</text>
<text transform="translate(53.54,0.00) scale(0.975,1)" font-size="31.5">(T) (× 10</text>
<text transform="translate(166.37,-12.10) scale(0.975,1)" font-size="31.5">8</text>
<text transform="translate(181.73,0.00) scale(0.975,1)" font-size="31.5"> cm</text>
<text transform="translate(226.92,-12.10) scale(0.975,1)" font-size="31.5">-2</text>
<text transform="translate(252.51,0.00) scale(0.975,1)" font-size="31.5">)</text>
</g>
<g transform="translate(900.80,237.73) rotate(90)" fill="#000">
<text transform="translate(0.00,0.00) scale(0.975,1)" font-size="31.5">σ</text>
<text transform="translate(16.56,8.40) scale(0.975,1)" font-size="31.5">xy</text>
<text transform="translate(47.27,0.00) scale(0.975,1)" font-size="31.5">(T) [×10</text>
<text transform="translate(152.42,-12.40) scale(0.975,1)" font-size="31.5">2</text>
<text transform="translate(167.78,0.00) scale(0.975,1)" font-size="31.5"> (Ωcm)</text>
<text transform="translate(256.26,-12.40) scale(0.975,1)" font-size="31.5">-1</text>
<text transform="translate(281.84,0.00) scale(0.975,1)" font-size="31.5">]</text>
</g>
</svg>
</body></html>
